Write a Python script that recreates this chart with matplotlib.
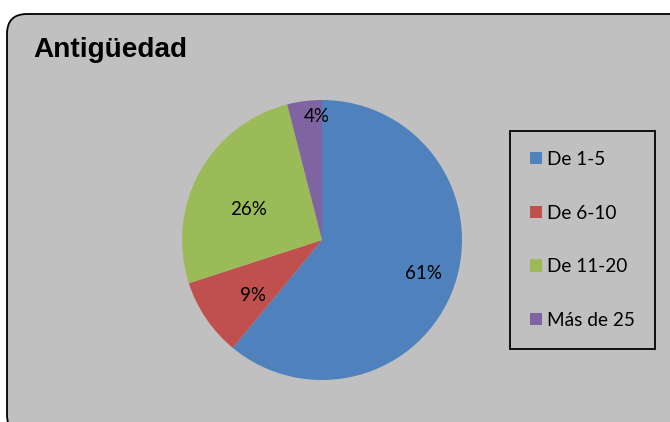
import numpy as np
import matplotlib
matplotlib.use('Agg')
import matplotlib.pyplot as plt
from matplotlib.patches import FancyBboxPatch

# Antigüedad (años) - share of respondents
categorias = ['De 1-5', 'De 6-10', 'De 11-20', 'Más de 25']
porcentajes = [61, 9, 26, 4]
colores = ['#4F81BD', '#C0504D', '#9BBB59', '#8064A2']
titulo = 'Antigüedad'

# label placement: distance from centre (fraction of radius) and a small
# angular nudge (degrees) from the wedge middle, as in the original
dist_etiquetas = [0.76, 0.63, 0.57, 0.88]
giro_etiquetas = [1.7, 4.4, 6.1, -4.9]

W, H = 670, 422
fig = plt.figure(figsize=(W / 100, H / 100), dpi=100, facecolor='white')

# rounded grey chart area
marco = FancyBboxPatch((7 / W, -0.03), 1.05, (H - 14) / H + 0.03,
                       boxstyle='round,pad=0,rounding_size=%f' % (20 / W),
                       mutation_aspect=W / H,
                       transform=fig.transFigure, facecolor='#C0C0C0',
                       edgecolor='black', linewidth=1.3, zorder=-5)
fig.patches.append(marco)

fig.text(33 / W, 1 - 57 / H, titulo, fontsize=20.2, fontweight='bold',
         family='Liberation Sans', va='baseline', ha='left')

# pie centred at (322, 240) px from top, radius 140 px
cx, cy, r = 322, H - 240, 140
ax = fig.add_axes([(cx - r) / W, (cy - r) / H, 2 * r / W, 2 * r / H])
ax.set_zorder(2)
ax.set_axis_off()
wedges, _ = ax.pie(porcentajes, colors=colores, startangle=90,
                   counterclock=False, radius=1,
                   wedgeprops=dict(linewidth=0))
ax.set_xlim(-1, 1)
ax.set_ylim(-1, 1)
ax.set_aspect('equal')

for w, p, d, g in zip(wedges, porcentajes, dist_etiquetas, giro_etiquetas):
    ang = np.deg2rad((w.theta1 + w.theta2) / 2 + g)
    ax.text(d * np.cos(ang), d * np.sin(ang), f'{p}%', ha='center',
            va='center', fontsize=13.5, family='Lato', color='black')

leg = fig.legend(wedges, categorias, loc='upper left',
                 bbox_to_anchor=(510 / W, 1 - 131 / H),
                 bbox_transform=fig.transFigure,
                 prop=dict(family='Lato', size=13.7),
                 frameon=True, fancybox=False, edgecolor='black',
                 facecolor='#C0C0C0', framealpha=1,
                 borderpad=1.05, labelspacing=1.92, handlelength=0.62,
                 handleheight=0.62, handletextpad=0.3, borderaxespad=0)
leg.get_frame().set_linewidth(1.3)
leg.set_zorder(3)

fig.savefig('out.png', dpi=100, facecolor='white')
